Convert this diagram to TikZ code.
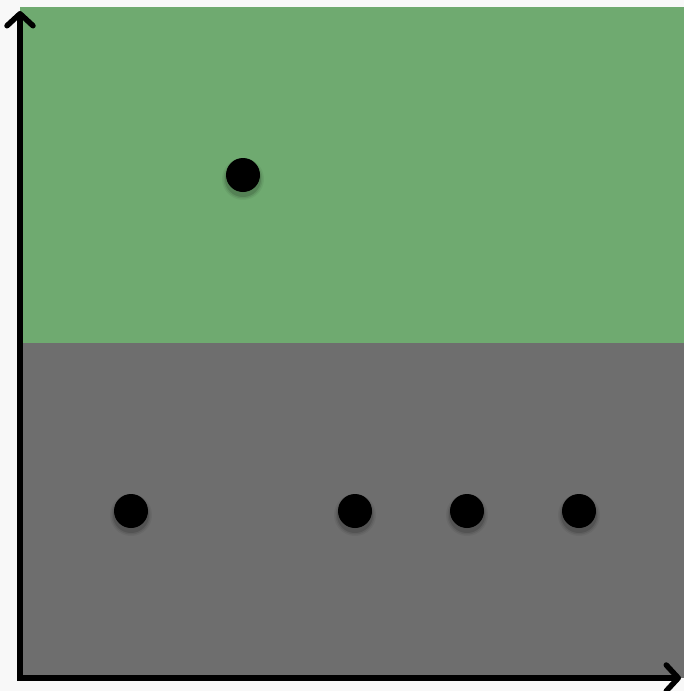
\documentclass[tikz,border=0pt]{standalone}
\usetikzlibrary{arrows.meta}
\definecolor{bgc}{HTML}{F8F8F8}
\definecolor{topgreen}{HTML}{6FAA70}
\definecolor{lowgray}{HTML}{6E6E6E}
\tikzset{
  px/.style={x=1pt,y=-1pt},
  dot/.style={circle,fill=black,minimum size=34pt,inner sep=0pt},
  axis/.style={line width=5.5pt,-{Straight Barb[length=12pt,width=26pt,line cap=round,line join=round]}},
}
\begin{document}
\begin{tikzpicture}[px]
\fill[bgc] (0,0) rectangle (684,691);
\useasboundingbox (0,0) rectangle (684,691);
\fill[topgreen] (20,7) rectangle (684,343);
\fill[lowgray] (20,343) rectangle (684,678);
% soft shadows of dots
\foreach \x/\y in {243/175,131/511,355/511,467/511,579/511}{
  \foreach \r/\o in {21/0.05,19.5/0.08,18/0.12}{
    \fill[black,opacity=\o] (\x,\y+4) circle (\r pt);
  }
}
\node[dot] (p1) at (243,175) {};
\node[dot] (p2) at (131,511) {};
\node[dot] (p3) at (355,511) {};
\node[dot] (p4) at (467,511) {};
\node[dot] (p5) at (579,511) {};
\coordinate (o) at (20,678);
\coordinate (ytip) at (20,11);
\coordinate (xtip) at (681,678);
\draw[axis] ([yshift=2.75pt]o) -- (ytip);
\draw[axis] ([xshift=-2.75pt]o) -- (xtip);
\end{tikzpicture}
\end{document}
